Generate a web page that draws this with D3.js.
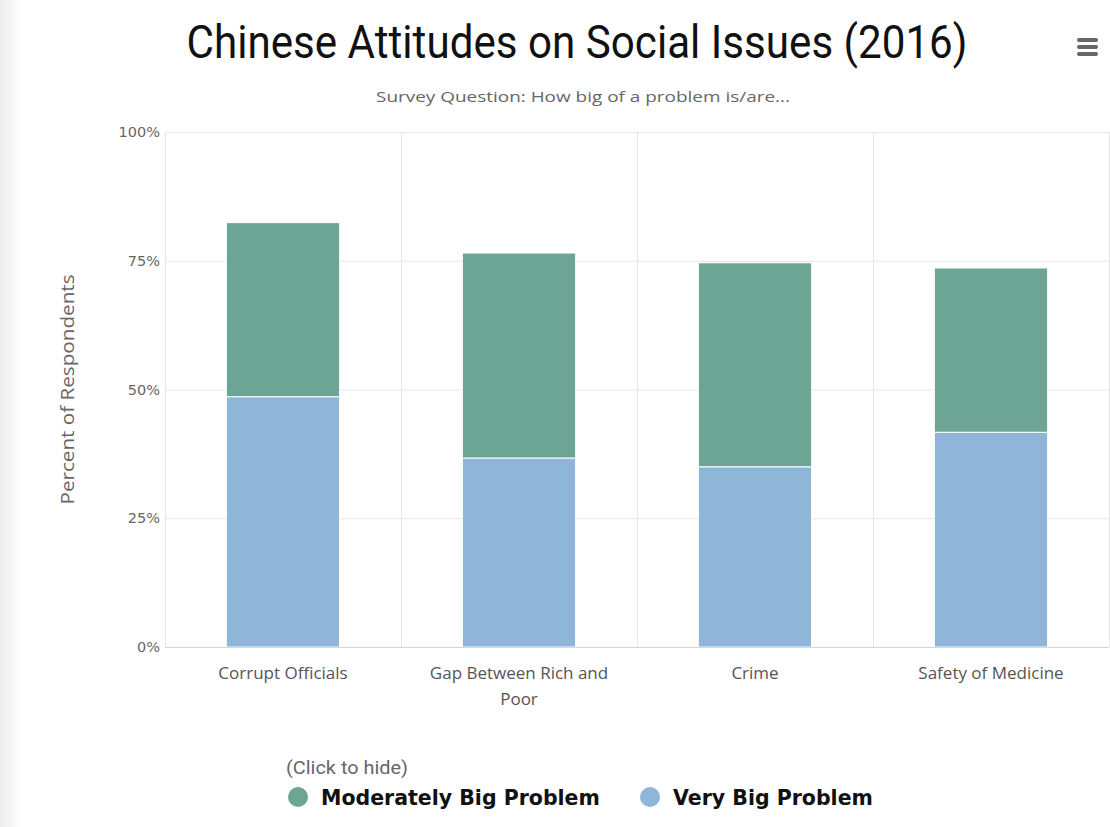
<!DOCTYPE html>
<html><head><meta charset="utf-8">
<script src="https://cdn.jsdelivr.net/npm/d3@7"></script>
<style>body{margin:0;background:#fff;}svg{display:block;}</style>
</head><body>
<svg id="c" width="1110" height="827"></svg>
<script>
const categories = ["Corrupt Officials", "Gap Between Rich and Poor", "Crime", "Safety of Medicine"];
const veryBig = [48.6, 36.7, 35.0, 41.7];
const moderatelyBig = [33.8, 39.8, 39.6, 31.9];
const yTicks = [0, 25, 50, 75, 100];
const seriesNames = ["Moderately Big Problem", "Very Big Problem"];
const seriesColors = ["#6ca594", "#8fb6d8"];

const svg = d3.select("#c");
const W = 1110, H = 827;
const m = {left:165, right:1, top:132, bottom:180};
const x0 = m.left, x1 = W - m.right, y0 = H - m.bottom, y1 = m.top;

// left shade strip
const grad = svg.append("defs").append("linearGradient").attr("id","g").attr("x1","0").attr("x2","1");
grad.append("stop").attr("offset","0").attr("stop-color","#ececec");
grad.append("stop").attr("offset","1").attr("stop-color","#ffffff");
svg.append("rect").attr("x",0).attr("y",0).attr("width",20).attr("height",H).attr("fill","url(#g)");

const x = d3.scaleBand().domain(categories).range([x0, x1]).paddingInner(0).paddingOuter(0);
const y = d3.scaleLinear().domain([0,100]).range([y0, y1]);

// horizontal grid
svg.append("g").selectAll("line").data(yTicks).join("line")
  .attr("x1", x0).attr("x2", x1).attr("y1", d=>y(d)+0.5).attr("y2", d=>y(d)+0.5)
  .attr("stroke","#e6e6e6");
// vertical grid at category boundaries
const bounds = categories.map(c=>x(c)).concat([x1]);
svg.append("g").selectAll("line").data(bounds).join("line")
  .attr("x1", d=>Math.round(d)+0.5).attr("x2", d=>Math.round(d)+0.5).attr("y1", y1).attr("y2", y0)
  .attr("stroke","#e6e6e6");

// y tick labels
const yAxis = d3.axisLeft(y).tickValues(yTicks).tickFormat(d=>d+"%").tickSize(0).tickPadding(5);
const ya = svg.append("g").attr("transform",`translate(${x0},0)`).call(yAxis);
ya.select(".domain").remove();
ya.selectAll("text").attr("font-family","'DejaVu Sans', sans-serif").attr("font-size",14.5).attr("fill","#666");

// bars
const bw = x.bandwidth()*0.48;
const stackData = categories.map((c,i)=>({cat:c, very:veryBig[i], mod:moderatelyBig[i]}));
const stack = d3.stack().keys(["very","mod"])(stackData);
const colorFor = {very: seriesColors[1], mod: seriesColors[0]};
svg.append("g").selectAll("g").data(stack).join("g")
  .attr("fill", s=>colorFor[s.key])
  .selectAll("rect").data(s=>s).join("rect")
  .attr("x", d=>x(d.data.cat)+x.bandwidth()/2-bw/2)
  .attr("width", bw)
  .attr("y", d=>y(d[1]))
  .attr("height", d=>y(d[0])-y(d[1]))
  .attr("stroke","#ffffff").attr("stroke-width",1);

// x axis line
svg.append("line").attr("x1",x0).attr("x2",x1).attr("y1",y0+0.5).attr("y2",y0+0.5).attr("stroke","#ccd6eb");

// x labels
const xAxis = d3.axisBottom(x).tickSize(0).tickPadding(20);
const xa = svg.append("g").attr("transform",`translate(0,${y0})`).call(xAxis);
xa.select(".domain").remove();
xa.selectAll("text").attr("font-family","'Open Sans', sans-serif").attr("font-size",17).attr("fill","#555")
  .each(function(d){
    const t = d3.select(this);
    if (d === "Gap Between Rich and Poor") {
      t.text(null);
      t.append("tspan").attr("x",0).attr("dy","0.71em").text("Gap Between Rich and");
      t.append("tspan").attr("x",0).attr("dy","1.5em").text("Poor");
    }
  });

// title
svg.append("text").attr("x",577).attr("y",58).attr("text-anchor","middle")
  .attr("font-family","'Liberation Sans Narrow', Roboto, sans-serif").attr("font-size",46).attr("fill","#111")
  .attr("textLength",781).attr("lengthAdjust","spacingAndGlyphs")
  .text("Chinese Attitudes on Social Issues (2016)");
svg.append("text").attr("x",583).attr("y",102).attr("text-anchor","middle")
  .attr("font-family","'Open Sans', sans-serif").attr("font-size",15).attr("fill","#666")
  .attr("textLength",414).attr("lengthAdjust","spacingAndGlyphs")
  .text("Survey Question: How big of a problem is/are...");

// y title
svg.append("text").attr("transform",`translate(74,${(y0+y1)/2}) rotate(-90)`).attr("text-anchor","middle")
  .attr("font-family","'Open Sans', sans-serif").attr("font-size",19).attr("fill","#666")
  .attr("textLength",230).attr("lengthAdjust","spacingAndGlyphs")
  .text("Percent of Respondents");

// menu icon
svg.append("g").selectAll("rect").data([0,1,2]).join("rect")
  .attr("x",1077).attr("y",d=>38+d*7).attr("width",21).attr("height",4).attr("rx",2).attr("fill","#666");

// legend
svg.append("text").attr("x",286).attr("y",774)
  .attr("font-family","Roboto, sans-serif").attr("font-size",19).attr("fill","#666")
  .attr("textLength",122).attr("lengthAdjust","spacingAndGlyphs")
  .text("(Click to hide)");
const legX = [298, 650];
const lg = svg.append("g").selectAll("g").data(seriesNames).join("g");
lg.append("circle").attr("cx",(d,i)=>legX[i]).attr("cy",797).attr("r",10).attr("fill",(d,i)=>seriesColors[i]);
lg.append("text").attr("x",(d,i)=>legX[i]+23).attr("y",805)
  .attr("font-family","'DejaVu Sans', sans-serif").attr("font-weight","bold").attr("font-size",20.5).attr("fill","#111")
  .text(d=>d);
</script>
</body></html>
